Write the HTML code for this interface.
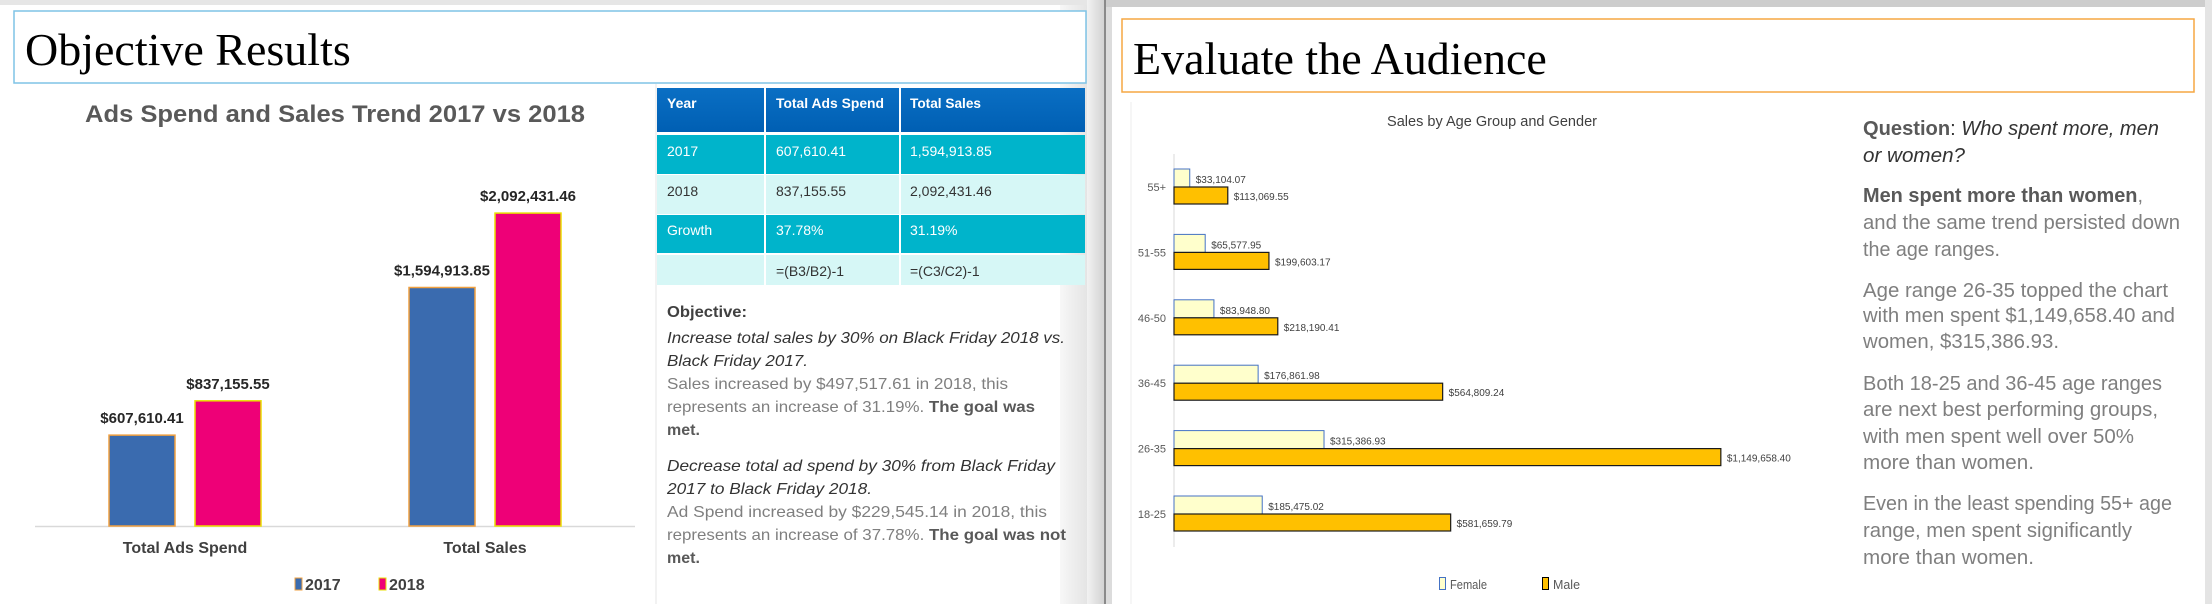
<!DOCTYPE html>
<html><head><meta charset="utf-8"><style>
html,body{margin:0;padding:0;background:#fff;}
svg{display:block;}
text{font-family:"Liberation Sans",sans-serif;}
.serif{font-family:"Liberation Serif",serif;}
</style></head><body>
<svg id="root" width="2212" height="604" viewBox="0 0 2212 604" xmlns="http://www.w3.org/2000/svg">
<defs>
<linearGradient id="sep" x1="0" x2="1" y1="0" y2="0"><stop offset="0" stop-color="#f2f2f2"/><stop offset="1" stop-color="#cfcfcf"/></linearGradient>
<linearGradient id="hdr" x1="0" x2="0" y1="0" y2="1"><stop offset="0" stop-color="#0a6fc4"/><stop offset="1" stop-color="#005fb3"/></linearGradient>
</defs>
<!-- left slide -->
<g>
<rect x="0" y="0" width="1106" height="604" fill="#fff"/>
<rect x="0" y="0" width="1106" height="5" fill="#e6e6e6"/>
<rect x="1060" y="5" width="30" height="599" fill="url(#sep)" opacity="0.6"/>
<rect x="14" y="11" width="1072" height="72" fill="#fff" stroke="#7fc3e6" stroke-width="1.5"/>
<text class="serif" x="25" y="65" font-size="46" fill="#000">Objective Results</text>
<line x1="656" y1="84" x2="656" y2="604" stroke="#e6e6e6" stroke-width="1"/>
<text x="335" y="122" font-size="24" font-weight="bold" fill="#595959" text-anchor="middle" textLength="500" lengthAdjust="spacingAndGlyphs">Ads Spend and Sales Trend 2017 vs 2018</text>
<line x1="35" y1="526.5" x2="635" y2="526.5" stroke="#d9d9d9" stroke-width="1.5"/>
<g id="adsChart"></g>
<g>
<rect x="295" y="578" width="7" height="12" fill="#3a6baf" stroke="#f0a040" stroke-width="1"/>
<text x="305" y="590" font-size="16" font-weight="bold" fill="#404040">2017</text>
<rect x="379" y="578" width="7" height="12" fill="#ee0077" stroke="#e8e000" stroke-width="1"/>
<text x="389" y="590" font-size="16" font-weight="bold" fill="#404040">2018</text>
</g>
<!-- table -->
<g>
<rect x="657" y="88" width="107" height="44" fill="url(#hdr)"/><rect x="766" y="88" width="133" height="44" fill="url(#hdr)"/><rect x="901" y="88" width="184" height="44" fill="url(#hdr)"/>
<rect x="657" y="135" width="107" height="39" fill="#00b4cb"/><rect x="766" y="135" width="133" height="39" fill="#00b4cb"/><rect x="901" y="135" width="184" height="39" fill="#00b4cb"/>
<rect x="657" y="175" width="107" height="39" fill="#d6f7f6"/><rect x="766" y="175" width="133" height="39" fill="#d6f7f6"/><rect x="901" y="175" width="184" height="39" fill="#d6f7f6"/>
<rect x="657" y="215" width="107" height="38" fill="#00b4cb"/><rect x="766" y="215" width="133" height="38" fill="#00b4cb"/><rect x="901" y="215" width="184" height="38" fill="#00b4cb"/>
<rect x="657" y="255" width="107" height="30" fill="#d6f7f6"/><rect x="766" y="255" width="133" height="30" fill="#d6f7f6"/><rect x="901" y="255" width="184" height="30" fill="#d6f7f6"/>
<g font-size="14" fill="#fff" font-weight="bold">
<text x="667" y="108">Year</text>
<text x="776" y="108" textLength="108" lengthAdjust="spacingAndGlyphs">Total Ads Spend</text>
<text x="910" y="108" textLength="71" lengthAdjust="spacingAndGlyphs">Total Sales</text>
</g>
<g font-size="14" fill="#fff">
<text x="667" y="156">2017</text>
<text x="776" y="156">607,610.41</text>
<text x="910" y="156">1,594,913.85</text>
<text x="667" y="235">Growth</text>
<text x="776" y="235">37.78%</text>
<text x="910" y="235">31.19%</text>
</g>
<g font-size="14" fill="#333">
<text x="667" y="196">2018</text>
<text x="776" y="196">837,155.55</text>
<text x="910" y="196">2,092,431.46</text>
<text x="776" y="276">=(B3/B2)-1</text>
<text x="910" y="276">=(C3/C2)-1</text>
</g>
</g>
<g font-size="16">
<text x="667" y="317" font-weight="bold" fill="#404040" textLength="80" lengthAdjust="spacingAndGlyphs">Objective:</text>
<text x="667" y="343" font-style="italic" fill="#333" textLength="398" lengthAdjust="spacingAndGlyphs">Increase total sales by 30% on Black Friday 2018 vs.</text>
<text x="667" y="366" font-style="italic" fill="#333" textLength="141" lengthAdjust="spacingAndGlyphs">Black Friday 2017.</text>
<text x="667" y="389" fill="#7f7f7f" textLength="341" lengthAdjust="spacingAndGlyphs">Sales increased by $497,517.61 in 2018, this</text>
<text x="667" y="412" fill="#7f7f7f" textLength="368" lengthAdjust="spacingAndGlyphs">represents an increase of 31.19%. <tspan font-weight="bold" fill="#595959">The goal was</tspan></text>
<text x="667" y="435" font-weight="bold" fill="#595959">met.</text>
<text x="667" y="471" font-style="italic" fill="#333" textLength="388" lengthAdjust="spacingAndGlyphs">Decrease total ad spend by 30% from Black Friday</text>
<text x="667" y="494" font-style="italic" fill="#333" textLength="205" lengthAdjust="spacingAndGlyphs">2017 to Black Friday 2018.</text>
<text x="667" y="517" fill="#7f7f7f" textLength="380" lengthAdjust="spacingAndGlyphs">Ad Spend increased by  $229,545.14 in 2018, this</text>
<text x="667" y="540" fill="#7f7f7f" textLength="399" lengthAdjust="spacingAndGlyphs">represents an increase of 37.78%. <tspan font-weight="bold" fill="#595959">The goal was not</tspan></text>
<text x="667" y="563" font-weight="bold" fill="#595959">met.</text>
</g>
</g>
<!-- separator -->
<rect x="1087" y="0" width="19" height="604" fill="url(#sep)"/>
<rect x="1104" y="0" width="2" height="604" fill="#8a8a8a"/>
<rect x="1106" y="0" width="6" height="604" fill="#dcdcdc"/>
<!-- right slide -->
<g>
<rect x="1112" y="0" width="1100" height="604" fill="#fff"/>
<rect x="1106" y="0" width="1106" height="7" fill="#cdcdcd"/>
<rect x="2205" y="0" width="7" height="604" fill="#e4e4e4"/>
<rect x="1122" y="19" width="1072" height="73" fill="#fff" stroke="#f5a742" stroke-width="1.5"/>
<text class="serif" x="1133" y="74" font-size="46" fill="#000">Evaluate the Audience</text>
<line x1="1131" y1="102" x2="1131" y2="604" stroke="#ececec"/>
<text x="1492" y="126" font-size="15" fill="#404040" text-anchor="middle" textLength="210" lengthAdjust="spacingAndGlyphs">Sales by Age Group and Gender</text>
<line x1="1174" y1="154" x2="1174" y2="547" stroke="#d9d9d9"/>
<g id="ageChart"></g>
<g>
<rect x="1439.5" y="577.5" width="6" height="12" fill="#ffffcc" stroke="#4472c4"/>
<text x="1450" y="589" font-size="13" fill="#595959" textLength="37" lengthAdjust="spacingAndGlyphs">Female</text>
<rect x="1542.5" y="577.5" width="6" height="12" fill="#ffc000" stroke="#000"/>
<text x="1553" y="589" font-size="13" fill="#595959" textLength="27" lengthAdjust="spacingAndGlyphs">Male</text>
</g>
<g font-size="20" fill="#7f7f7f">
<text x="1863" y="135" textLength="296" lengthAdjust="spacingAndGlyphs"><tspan font-weight="bold" fill="#595959">Question</tspan><tspan fill="#333">: </tspan><tspan font-style="italic" fill="#333">Who spent more, men</tspan></text>
<text x="1863" y="162" font-style="italic" fill="#333" textLength="102" lengthAdjust="spacingAndGlyphs">or women?</text>
<text x="1863" y="202" textLength="280" lengthAdjust="spacingAndGlyphs"><tspan font-weight="bold" fill="#595959">Men spent more than women</tspan>,</text>
<text x="1863" y="229" textLength="317" lengthAdjust="spacingAndGlyphs">and the same trend persisted down</text>
<text x="1863" y="256" textLength="137" lengthAdjust="spacingAndGlyphs">the age ranges.</text>
<text x="1863" y="297" textLength="305" lengthAdjust="spacingAndGlyphs">Age range 26-35 topped the chart</text>
<text x="1863" y="322" textLength="312" lengthAdjust="spacingAndGlyphs">with men spent $1,149,658.40 and</text>
<text x="1863" y="348" textLength="196" lengthAdjust="spacingAndGlyphs">women, $315,386.93.</text>
<text x="1863" y="390" textLength="299" lengthAdjust="spacingAndGlyphs">Both 18-25 and 36-45 age ranges</text>
<text x="1863" y="416" textLength="295" lengthAdjust="spacingAndGlyphs">are next best performing groups,</text>
<text x="1863" y="443" textLength="271" lengthAdjust="spacingAndGlyphs">with men spent well over 50%</text>
<text x="1863" y="469" textLength="171" lengthAdjust="spacingAndGlyphs">more than women.</text>
<text x="1863" y="510" textLength="309" lengthAdjust="spacingAndGlyphs">Even in the least spending 55+ age</text>
<text x="1863" y="537" textLength="269" lengthAdjust="spacingAndGlyphs">range, men spent significantly</text>
<text x="1863" y="564" textLength="171" lengthAdjust="spacingAndGlyphs">more than women.</text>
</g>
</g>
</svg>
<script>
const adsCategories = ["Total Ads Spend", "Total Sales"];
const ads2017 = [607610.41, 1594913.85];
const ads2018 = [837155.55, 2092431.46];
const ads2017Labels = ["$607,610.41", "$1,594,913.85"];
const ads2018Labels = ["$837,155.55", "$2,092,431.46"];

const ageCategories = ["55+", "51-55", "46-50", "36-45", "26-35", "18-25"];
const femaleSales = [33104.07, 65577.95, 83948.80, 176861.98, 315386.93, 185475.02];
const maleSales = [113069.55, 199603.17, 218190.41, 564809.24, 1149658.40, 581659.79];

const NS = "http://www.w3.org/2000/svg";
function mk(tag, attrs, parent, txt) {
  const el = document.createElementNS(NS, tag);
  for (const k in attrs) el.setAttribute(k, attrs[k]);
  if (txt !== undefined) el.textContent = txt;
  parent.appendChild(el);
  return el;
}
function fmt(v) {
  return "$" + v.toLocaleString("en-US", {minimumFractionDigits: 2, maximumFractionDigits: 2});
}

// Chart 1 axes
const adsBase = 526, adsMax = 2200000, adsH = 329;
function adsY(v) { return adsBase - v / adsMax * adsH; }
function adsCenter(i) { return 185 + i * 300; }
const g1 = document.getElementById("adsChart");
adsCategories.forEach((c, i) => {
  const cx = adsCenter(i);
  const series = [[ads2017[i], "#3a6baf", "#f0a040", ads2017Labels[i] || fmt(ads2017[i]), cx - 76, "2017"],
                  [ads2018[i], "#ee0077", "#e8e000", ads2018Labels[i] || fmt(ads2018[i]), cx + 10, "2018"]];
  series.forEach(s => {
    const y = adsY(s[0]);
    const r = mk("rect", {x: s[4], y: y, width: 66, height: adsBase - y, fill: s[1], stroke: s[2], "stroke-width": 1.5}, g1);
    
    
    const t = mk("text", {x: s[4] + 33, y: y - 12, "font-size": 15, "font-weight": "bold", fill: "#262626", "text-anchor": "middle"}, g1, s[3]);
    
    
  });
  const cl = mk("text", {x: cx, y: 553, "font-size": 16, "font-weight": "bold", fill: "#404040", "text-anchor": "middle"}, g1, c);
  
  
});

// Chart 2 axes
const ageX0 = 1174, ageMax = 1150000, ageW = 547;
function ageX(v) { return ageX0 + v / ageMax * ageW; }
function ageY(i) { return 187 + i * 65.4; }
const g2 = document.getElementById("ageChart");
ageCategories.forEach((c, i) => {
  const cy = ageY(i);
  const cl = mk("text", {x: 1166, y: cy + 4, "font-size": 11, fill: "#595959", "text-anchor": "end"}, g2, c);
  
  
  const fx = ageX(femaleSales[i]);
  const fb = mk("rect", {x: ageX0, y: cy - 18, width: fx - ageX0, height: 18, fill: "#ffffcc", stroke: "#4472c4", "stroke-width": 1}, g2);
  
  
  const ft = mk("text", {x: fx + 6, y: cy - 4, "font-size": 10, fill: "#404040"}, g2, fmt(femaleSales[i]));
  
  
  const mx = ageX(maleSales[i]);
  const mb = mk("rect", {x: ageX0, y: cy, width: mx - ageX0, height: 17, fill: "#ffc000", stroke: "#1a1a1a", "stroke-width": 1.2}, g2);
  
  
  const mt = mk("text", {x: mx + 6, y: cy + 13, "font-size": 10, fill: "#404040"}, g2, fmt(maleSales[i]));
  
  
});
</script>
</body></html>
